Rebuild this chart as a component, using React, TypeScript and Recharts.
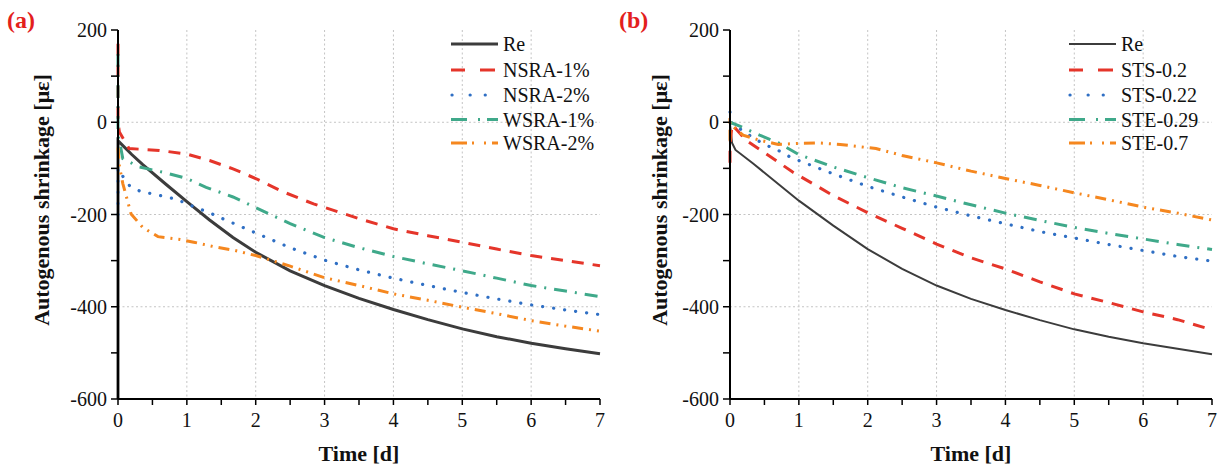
import React from 'react';
import { LineChart, Line, XAxis, YAxis, CartesianGrid } from 'recharts';

const FONT = '"Liberation Serif", "Times New Roman", serif';

// ---------- tick labels ----------
const xTicks = [0, 0.5, 1, 1.5, 2, 2.5, 3, 3.5, 4, 4.5, 5, 5.5, 6, 6.5, 7];
const yTicks = [-600, -500, -400, -300, -200, -100, 0, 100, 200];
const xGridValues = [1, 2, 3, 4, 5, 6];
const yGridValues = [-400, -200, 0];

// ---------- panel (a) ----------
const aReT = [0, 0, 0.02, 0.2, 0.36, 0.7, 1, 1.33, 1.67, 2, 2.5, 3, 3.5, 4, 4.5, 5, 5.5, 6, 6.5, 7];
const aReV = [-600, -40, -43, -70, -92, -135, -172, -212, -250, -282, -322, -354, -382, -406, -428, -448, -465, -479, -491, -502];

const aN1T = [0, 0, 0.02, 0.16, 0.6, 1, 1.33, 1.67, 2, 2.4, 2.84, 3.5, 4, 4.5, 5, 5.5, 6, 6.5, 7];
const aN1V = [170, 0, -21, -57, -61, -69, -83, -101, -122, -151, -177, -209, -231, -246, -260, -275, -289, -300, -311];

const aN2T = [0, 0, 0.05, 0.17, 0.34, 0.5, 0.85, 1, 1.34, 1.55, 2, 2.5, 3, 3.5, 4, 4.5, 5, 5.5, 6, 6.5, 7];
const aN2V = [-200, -100, -113, -138, -151, -155, -167, -177, -197, -211, -240, -272, -299, -320, -338, -354, -369, -383, -396, -407, -417];

const aW1T = [0, 0, 0.02, 0.07, 0.31, 0.7, 1, 1.28, 1.67, 2, 2.5, 3, 3.5, 4, 4.5, 5, 5.5, 6, 6.5, 7];
const aW1V = [148, -30, -39, -79, -97, -110, -122, -141, -162, -185, -220, -250, -272, -291, -307, -322, -338, -354, -366, -378];

const aW2T = [0, 0.02, 0.07, 0.19, 0.36, 0.58, 0.9, 1.1, 1.4, 1.7, 2, 2.5, 3, 3.5, 4, 4.5, 5, 5.5, 6, 6.5, 7];
const aW2V = [-55, -95, -133, -199, -228, -248, -254, -260, -270, -278, -289, -312, -337, -354, -372, -386, -401, -415, -430, -442, -453];

// ---------- panel (b) ----------
const bReT = [0, 0.03, 0.08, 0.34, 1, 1.5, 2, 2.5, 3, 3.5, 4, 4.5, 5, 5.5, 6, 6.5, 7];
const bReV = [-5, -45, -60, -90, -170, -224, -275, -318, -354, -383, -407, -429, -449, -465, -479, -491, -503];

const bS1T = [0, 0, 0.03, 0.24, 0.62, 0.91, 1.2, 1.5, 2, 2.5, 3, 3.5, 4, 4.5, 5, 5.5, 6, 6.5, 7];
const bS1V = [-88, -50, -5, -40, -78, -108, -133, -159, -196, -230, -264, -294, -318, -346, -372, -391, -411, -428, -450];

const bS2T = [0, 0.01, 0.17, 0.36, 0.53, 0.7, 0.87, 1, 1.5, 2, 2.5, 3, 3.5, 4, 4.5, 5, 5.5, 6, 6.5, 7];
const bS2V = [22, 0, -17, -36, -50, -61, -75, -83, -112, -139, -162, -184, -203, -220, -237, -251, -265, -278, -291, -301];

const bE1T = [0, 0.15, 0.43, 0.72, 1, 1.5, 2, 2.5, 3, 3.5, 4, 4.5, 5, 5.5, 6, 6.5, 7];
const bE1V = [0, -9, -28, -46, -70, -97, -120, -142, -160, -179, -197, -213, -228, -241, -253, -265, -276];

const bE2T = [0, 0, 0.05, 0.19, 0.43, 0.7, 1, 1.3, 1.6, 1.83, 2.12, 2.5, 3, 3.5, 4, 4.5, 5, 5.5, 6, 6.5, 7];
const bE2V = [-40, 0, -10, -28, -39, -48, -46, -45, -48, -52, -57, -72, -88, -106, -122, -137, -153, -168, -184, -197, -212];

const toPts = (t: number[], v: number[]) => t.map((x, i) => ({ t: x, v: v[i] }));

type Style = { color: string; width: number; dash?: string; cap?: 'round' | 'butt'; legendDash?: string; lx1: number; lx2: number };

const RED = '#e5352a';
const BLUE = '#2f6fc4';
const GREEN = '#3fa98a';
const ORANGE = '#f5871f';

const styles: Style[] = [
  { color: '#3c3c3c', width: 3, lx1: 0, lx2: 47 },
  { color: RED, width: 3, dash: '12 9', legendDash: '14 15 15', lx1: 0, lx2: 44 },
  { color: BLUE, width: 3.2, dash: '0.1 11', cap: 'round', legendDash: '0.1 18 0.1 15', lx1: 1, lx2: 35 },
  { color: GREEN, width: 3, dash: '13 8 2 8', legendDash: '16 11 2 7 11', lx1: 0, lx2: 47 },
  { color: ORANGE, width: 3, dash: '11 6 2 6 2 6', legendDash: '16 5 2 10 2 6 6', lx1: 0, lx2: 47 },
];

const namesA = ['Re', 'NSRA-1%', 'NSRA-2%', 'WSRA-1%', 'WSRA-2%'];
const namesB = ['Re', 'STS-0.2', 'STS-0.22', 'STE-0.29', 'STE-0.7'];

const dataA = [toPts(aReT, aReV), toPts(aN1T, aN1V), toPts(aN2T, aN2V), toPts(aW1T, aW1V), toPts(aW2T, aW2V)];
const dataB = [toPts(bReT, bReV), toPts(bS1T, bS1V), toPts(bS2T, bS2V), toPts(bE1T, bE1V), toPts(bE2T, bE2V)];

const XTick = (props: any) => {
  const { x, y, payload } = props;
  const major = Number.isInteger(payload.value);
  return (
    <g>
      <line x1={x} x2={x} y1={y} y2={y + 6} stroke="#000" strokeWidth={1.5} />
      {major && (
        <text x={x} y={y + 28} textAnchor="middle" fontSize={20} fontFamily={FONT} fill="#111">
          {payload.value}
        </text>
      )}
    </g>
  );
};

const YTick = (props: any) => {
  const { x, y, payload } = props;
  const major = payload.value % 200 === 0;
  return (
    <g>
      <line x1={x - 7} x2={x} y1={y} y2={y} stroke="#000" strokeWidth={1.5} />
      {major && (
        <text x={x - 11} y={y + 7} textAnchor="end" fontSize={20} fontFamily={FONT} fill="#111">
          {payload.value}
        </text>
      )}
    </g>
  );
};

const W = 614;
const H = 472;

type PanelProps = { left: number; tag: string; names: string[]; data: { t: number; v: number }[][]; reWidth: number; ylabX: number; legX: number };

const Panel = ({ left, tag, names, data, reWidth, ylabX, legX }: PanelProps) => {
  const rowY = [44, 70, 95, 119.5, 143];
  return (
    <div style={{ position: 'absolute', left, top: 0, width: W, height: H }}>
      <LineChart width={W} height={H} margin={{ top: 30, right: 14, bottom: 0, left: 0 }}>
        <CartesianGrid
          stroke="#c4c4c4"
          strokeDasharray="2 2.5"
          strokeWidth={1}
          verticalValues={xGridValues}
          horizontalValues={yGridValues}
        />
        <XAxis
          dataKey="t"
          type="number"
          domain={[0, 7]}
          ticks={xTicks}
          interval={0}
          height={73}
          tickSize={0}
          tickMargin={0}
          tickLine={false}
          tick={<XTick />}
          axisLine={{ stroke: '#000', strokeWidth: 2 }}
          label={{
            content: (p: any) => {
              const vb = p.viewBox;
              return (
                <text x={vb.x + vb.width / 2} y={vb.y + 62} textAnchor="middle" fontSize={22} fontWeight="bold" fontFamily={FONT} fill="#111">
                  Time [d]
                </text>
              );
            },
          }}
        />
        <XAxis xAxisId="top" orientation="top" type="number" domain={[0, 7]} height={0} tick={false} tickLine={false} axisLine={{ stroke: '#000', strokeWidth: 2 }} />
        <YAxis
          type="number"
          domain={[-600, 200]}
          ticks={yTicks}
          interval={0}
          width={118}
          tickSize={0}
          tickMargin={0}
          tickLine={false}
          tick={<YTick />}
          axisLine={{ stroke: '#000', strokeWidth: 2 }}
          label={{
            content: () => (
              <text x={ylabX} y={200} transform={`rotate(-90, ${ylabX}, 200)`} textAnchor="middle" fontSize={22} fontWeight="bold" fontFamily={FONT} fill="#111">
                Autogenous shrinkage [με]
              </text>
            ),
          }}
        />
        <YAxis yAxisId="right" orientation="right" type="number" domain={[-600, 200]} width={0} tick={false} tickLine={false} axisLine={{ stroke: '#000', strokeWidth: 2 }} />
        {data.map((pts, i) => {
          const s = styles[i];
          return (
            <Line
              key={names[i]}
              data={pts}
              dataKey="v"
              name={names[i]}
              type="linear"
              stroke={s.color}
              strokeWidth={i === 0 ? reWidth : s.width}
              strokeDasharray={s.dash}
              strokeLinecap={s.cap || 'butt'}
              dot={false}
              activeDot={false}
              isAnimationActive={false}
            />
          );
        })}
      </LineChart>
      <svg width={W} height={H} style={{ position: 'absolute', left: 0, top: 0, pointerEvents: 'none' }}>
        <text x={7} y={28} fontSize={24} fontWeight="bold" fontFamily={FONT} fill="#e3201c">
          {tag}
        </text>
        {names.map((n, i) => {
          const s = styles[i];
          const y = rowY[i];
          return (
            <g key={n}>
              <line
                x1={legX + s.lx1}
                x2={legX + s.lx2}
                y1={y}
                y2={y}
                stroke={s.color}
                strokeWidth={i === 0 ? reWidth : s.width}
                strokeDasharray={s.legendDash}
                strokeLinecap={s.cap || 'butt'}
              />
              <text x={legX + 52} y={y + 7} fontSize={20} fontFamily={FONT} fill="#111">
                {n}
              </text>
            </g>
          );
        })}
      </svg>
    </div>
  );
};

export default function App() {
  return (
    <div style={{ position: 'absolute', left: 0, top: 0, width: 1228, height: 472, background: '#fff' }}>
      <Panel left={0} tag="(a)" names={namesA} data={dataA} reWidth={3} ylabX={49} legX={451} />
      <Panel left={612} tag="(b)" names={namesB} data={dataB} reWidth={2} ylabX={55} legX={457} />
    </div>
  );
}
